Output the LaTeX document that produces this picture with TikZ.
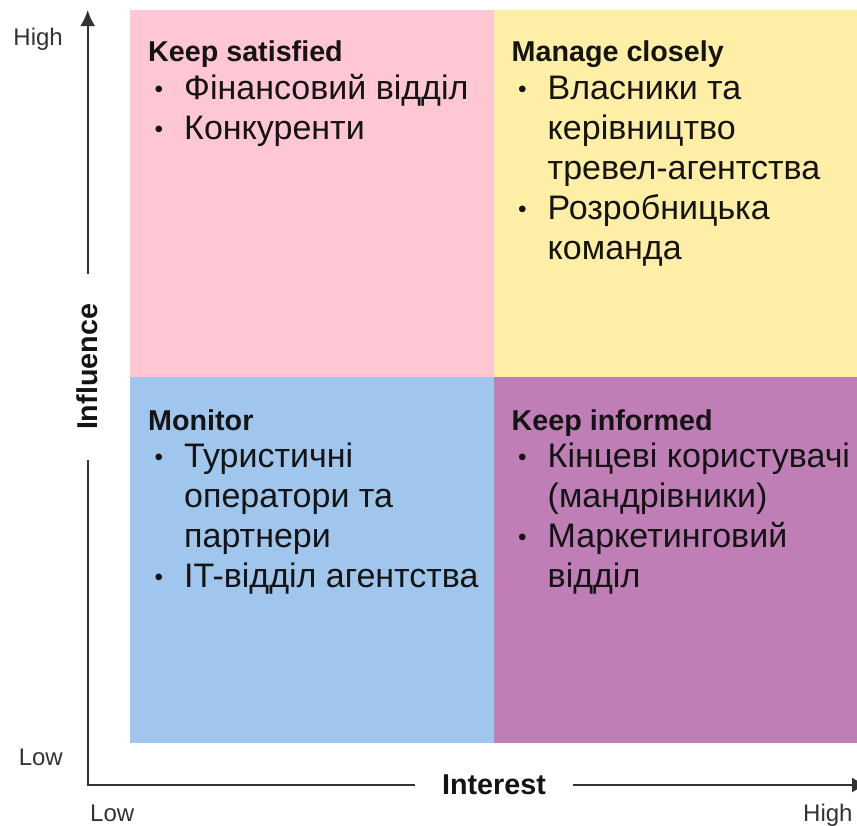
\documentclass[tikz,border=0pt]{standalone}
\usepackage{fontspec}
\setmainfont{Liberation Sans}
\usetikzlibrary{arrows.meta,positioning}

\definecolor{satpink}{HTML}{FFC6D3}
\definecolor{manyellow}{HTML}{FFEFA6}
\definecolor{monblue}{HTML}{A0C6EE}
\definecolor{infpurple}{HTML}{C07EB6}
\definecolor{axisgray}{HTML}{333333}
\definecolor{ink}{HTML}{141414}

% small bullet hanging to the left of the item text
\newcommand{\itm}{\makebox[0pt][r]{\raisebox{2pt}{\scalebox{0.72}{\textbullet}}\hspace{21pt}}}

\begin{document}
\begin{tikzpicture}[x=1pt, y=-1pt,
		head/.style={anchor=base west, inner sep=0, text=ink, font=\fontsize{28.7}{34}\bfseries\selectfont},
		entry/.style={anchor=base west, inner sep=0, text=ink, font=\fontsize{34}{40}\selectfont},
		axis/.style={color=axisgray, line width=2.2pt},
		axtip/.style={-{Latex[length=16pt, width=15pt]}},
		axlabel/.style={inner ysep=0, text=ink, font=\fontsize{28.7}{34}\bfseries\selectfont},
		level/.style={inner sep=0, text=axisgray, font=\fontsize{24}{28}\selectfont}]
		\useasboundingbox (0,0) rectangle (857,825);
		\fill[white] (0,0) rectangle (857,825);
		
		% the four fields
		\fill[satpink] (130,10) rectangle (493.5,376.5);
		\fill[manyellow] (493.5,10) rectangle (857,376.5);
		\fill[monblue] (130,376.5) rectangle (493.5,743);
		\fill[infpurple] (493.5,376.5) rectangle (857,743);
		
		% field texts
		\node[head] (sat) at (148,61.7) {Keep satisfied};
		\foreach \ln [count=\i] in {\itm Фінансовий відділ, \itm Конкуренти}
			\node[entry] (sat-\i) at (184,99.3+40*\i-40) {\ln};
		
		\node[head] (man) at (511.5,61.7) {Manage closely};
		\foreach \ln [count=\i] in {\itm Власники та, керівництво, тревел-агентства,
				\itm Розробницька, команда}
			\node[entry] (man-\i) at (547.5,99.3+40*\i-40) {\ln};
		
		\node[head] (mon) at (148,430) {Monitor};
		\foreach \ln [count=\i] in {\itm Туристичні, оператори та, партнери,
				\itm IT-відділ агентства}
			\node[entry] (mon-\i) at (184,467.6+40*\i-40) {\ln};
		
		\node[head] (inf) at (511.5,430) {Keep informed};
		\foreach \ln [count=\i] in {\itm Кінцеві користувачі, (мандрівники),
				\itm Маркетинговий, відділ}
			\node[entry] (inf-\i) at (547.5,467.6+40*\i-40) {\ln};
		
		% axes
		\node[axlabel, rotate=90, inner xsep=30pt] (infl) at (87.7,367) {Influence};
		\node[axlabel, inner xsep=27pt] (intr) at (494,785) {Interest};
		\coordinate (ytip) at (87.7,10);
		\coordinate (xtip) at (868,785);
		\draw[axis, line join=miter] (infl) |- (intr);
		\draw[axis, axtip] (infl) -- (ytip);
		\draw[axis, axtip] (intr) -- (xtip);
		
		\node[level, anchor=base east] (yhigh) at (63,45) {High};
		\node[level, anchor=base east] (ylow) at (63,765) {Low};
		\node[level, anchor=base west] (xlow) at (90,821) {Low};
		\node[level, anchor=base west] (xhigh) at (803,821) {High};
	\end{tikzpicture}
\end{document}
